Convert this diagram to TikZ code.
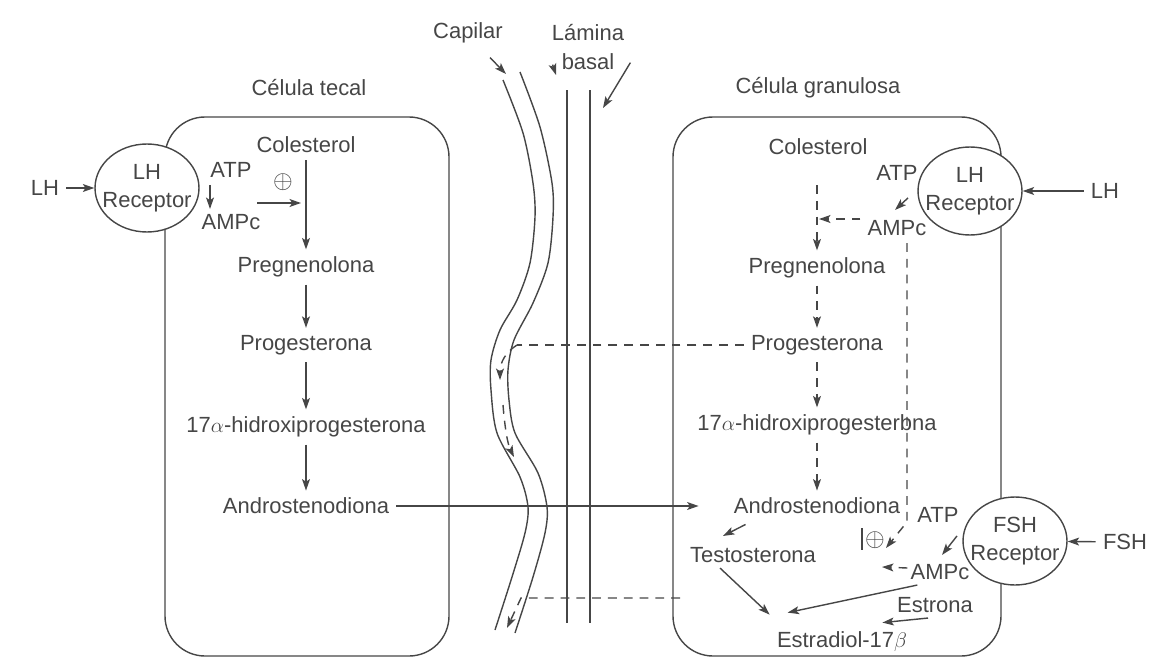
\documentclass[tikz,border=0pt]{standalone}
\usepackage{fontspec}
\setmainfont{Liberation Sans}
\usetikzlibrary{arrows.meta,calc,shapes.geometric}

\definecolor{ink}{RGB}{70,70,70}

\tikzset{
  lbl/.style={text=ink, font=\fontsize{12.5}{16}\selectfont, inner sep=4pt},
  plus/.style={text=ink, font=\fontsize{15}{15}\selectfont, inner sep=0pt},
  cell/.style={draw=ink, line width=0.8pt, rounded corners=0.8cm},
  receptor/.style={draw=ink, line width=0.8pt, fill=white, ellipse,
                   minimum width=2.08cm, minimum height=1.76cm, inner sep=0pt},
  wall/.style={draw=ink, line width=0.8pt},
  flow/.style={wall, -{Stealth[length=6.5pt,width=4.5pt,inset=1.5pt]}},
  dline/.style={wall, dash pattern=on 5pt off 4pt},
  dflow/.style={flow, dash pattern=on 5pt off 4pt},
}

\begin{document}
\begin{tikzpicture}[x=0.02cm, y=-0.02cm]

\useasboundingbox (0,0) rectangle (1160,659);

\draw[cell] (165,117) rectangle (449,656);
\draw[cell] (673,117) rectangle (1001,656);

% capillary and basal lamina
\draw[wall] plot[smooth] coordinates {(503,80) (523,133) (533,183) (535,217) (530,263) (517,300)
  (500,330) (491,360) (491,390) (497,433) (520,477) (528,507) (525,533) (512,577) (495,630)};
\draw[wall] plot[smooth] coordinates {(520,72) (540,127) (552,183) (553,217) (548,263) (533,303)
  (514,340) (508,370) (509,400) (515,433) (538,473) (547,507) (545,533) (533,577) (515,633)};
\draw[wall] (567,90) -- (567,623);
\draw[wall] (590,90) -- (590,623);

\node[lbl] (tCap) at (468,33) {Capilar};
\node[lbl, align=center] (tLam) at (588,47) {Lámina\\basal};
\coordinate (capTop) at (506,74);
\coordinate (lamIn) at (556,75);
\coordinate (lamOut) at (603,108);
\draw[flow] ($(tCap.south)+(22,7)$) -- (capTop);
\draw[flow] ($(tLam.south west)+(8,-12)$) -- (lamIn);
\draw[flow] ($(tLam.south east)+(-1,-14)$) -- (lamOut);

% celula tecal
\node[receptor] (lLHR) at (147,188) {};
\node[lbl, align=center] (lLHRt) at (lLHR) {LH\\Receptor};
\node[lbl] (lLH) at (45,188) {LH};
\node[lbl] (lTitle) at (309,88) {Célula tecal};
\node[lbl] (lColes) at (306,145) {Colesterol};
\node[lbl] (lATP) at (231,170) {ATP};
\node[lbl] (lAMPc) at (231,222) {AMPc};
\node[plus] (lPlus) at (283,182) {$\oplus$};
\node[lbl] (lPreg) at (306,267) {Pregnenolona};
\node[lbl] (lProg) at (306,345) {Progesterona};
\node[lbl] (lHidro) at (306,427) {17$\alpha$-hidroxiprogesterona};
\node[lbl] (lAndro) at (306,506) {Androstenodiona};

\coordinate (lFrom) at (257,203);
\coordinate (lJoin) at (301,203);

\draw[flow] (lLH) -- (lLHR);
\draw[flow] ($(lATP.south)+(-21,0)$) -- ($(lAMPc.north)+(-21,2)$);
\draw[flow] (lFrom) -- (lJoin);
\draw[flow] (lColes) -- (lPreg);
\draw[flow] (lPreg) -- (lProg);
\draw[flow] (lProg) -- (lHidro);
\draw[flow] (lHidro) -- (lAndro);

% celula granulosa
\node[receptor] (rLHR) at (970,191) {};
\node[lbl, align=center] (rLHRt) at (rLHR) {LH\\Receptor};
\node[receptor] (fR) at (1015,541) {};
\node[lbl, align=center] (fRt) at (fR) {FSH\\Receptor};
\node[lbl] (rLH) at (1105,191) {LH};
\node[lbl] (tFSH) at (1125,542) {FSH};
\node[lbl] (rTitle) at (818,88) {Célula granulosa};
\node[lbl] (rColes) at (818,147) {Colesterol};
\node[lbl] (rATP) at (897,173) {ATP};
\node[lbl] (rAMPc) at (897,228) {AMPc};
\node[lbl] (rPreg) at (817,268) {Pregnenolona};
\node[lbl] (rProg) at (817,345) {Progesterona};
\node[lbl] (rHidro) at (817,425) {17$\alpha$-hidroxiprogesterbna};
\node[lbl] (rAndro) at (817,506) {Androstenodiona};
\node[lbl] (rTesto) at (753,555) {Testosterona};
\node[lbl] (rEstrona) at (935,605) {Estrona};
\node[lbl] (rEstrad) at (842,642) {Estradiol-17$\beta$};
\node[lbl] (fATP) at (938,515) {ATP};
\node[lbl] (fAMPc) at (940,572) {AMPc};
\node[plus] (rPlus) at (875,540) {$\oplus$};

\coordinate (rTop) at (817,185);
\coordinate (rJoin) at (819,219);
\coordinate (rBend) at (907,522);
\coordinate (rAct) at (886,548);
\coordinate (barTop) at (862,528);
\coordinate (barBot) at (862,550);
\coordinate (fHead) at (882,567);

\draw[flow] (rLH) -- (rLHR);
\draw[flow] (tFSH) -- (fR);
\draw[flow] ($(rATP.south)+(11,10)$) -- ($(rAMPc.north)+(-2,-3)$);
\draw[dflow] ($(rAMPc.west)+(0,-9)$) -- (rJoin);
\draw[dflow] (rTop) -- (rPreg);
\draw[dflow] (rPreg) -- (rProg);
\draw[dflow] (rProg) -- (rHidro);
\draw[dflow] (rHidro) -- (rAndro);
\draw[dflow] ($(rAMPc.south)+(10,0)$) -- (rBend) -- (rAct);
\draw[wall] (barTop) -- (barBot);
\draw[flow] ($(fATP.south)+(19,6)$) -- ($(fAMPc.north)+(2,-2)$);
\draw[dflow] ($(fAMPc.west)+(4,-4)$) -- (fHead);
\draw[flow] ($(rAndro.south west)+(19,3)$) -- ($(rTesto.north)+(-30,-4)$);
\draw[flow] ($(rTesto.south)+(-33,-2)$) -- ($(rEstrad.north west)+(0,-10)$);
\draw[flow] ($(fAMPc.south west)+(14,-2)$) -- ($(rEstrad.north west)+(18,-12)$);
\draw[flow] ($(rEstrona.south)+(-7,-2)$) -- ($(rEstrad.north east)+(-32,-2)$);

% transport between the cells
\coordinate (capIn) at (517,345);
\coordinate (bIn) at (680,598);
\coordinate (bTurn) at (521,598);
\coordinate (bOut) at (507,628);
\draw[flow] (lAndro.east) -- ($(rAndro.west)+(-28,0)$);
\draw[dline] (rProg.west) -- (capIn);
\draw[dflow] (capIn) .. controls (506,352) and (500,362) .. (500,380);
\draw[dflow] (503,405) .. controls (505,430) and (508,445) .. (514,457);
\draw[dflow] (bIn) -- (bTurn) -- (bOut);

\end{tikzpicture}
\end{document}
